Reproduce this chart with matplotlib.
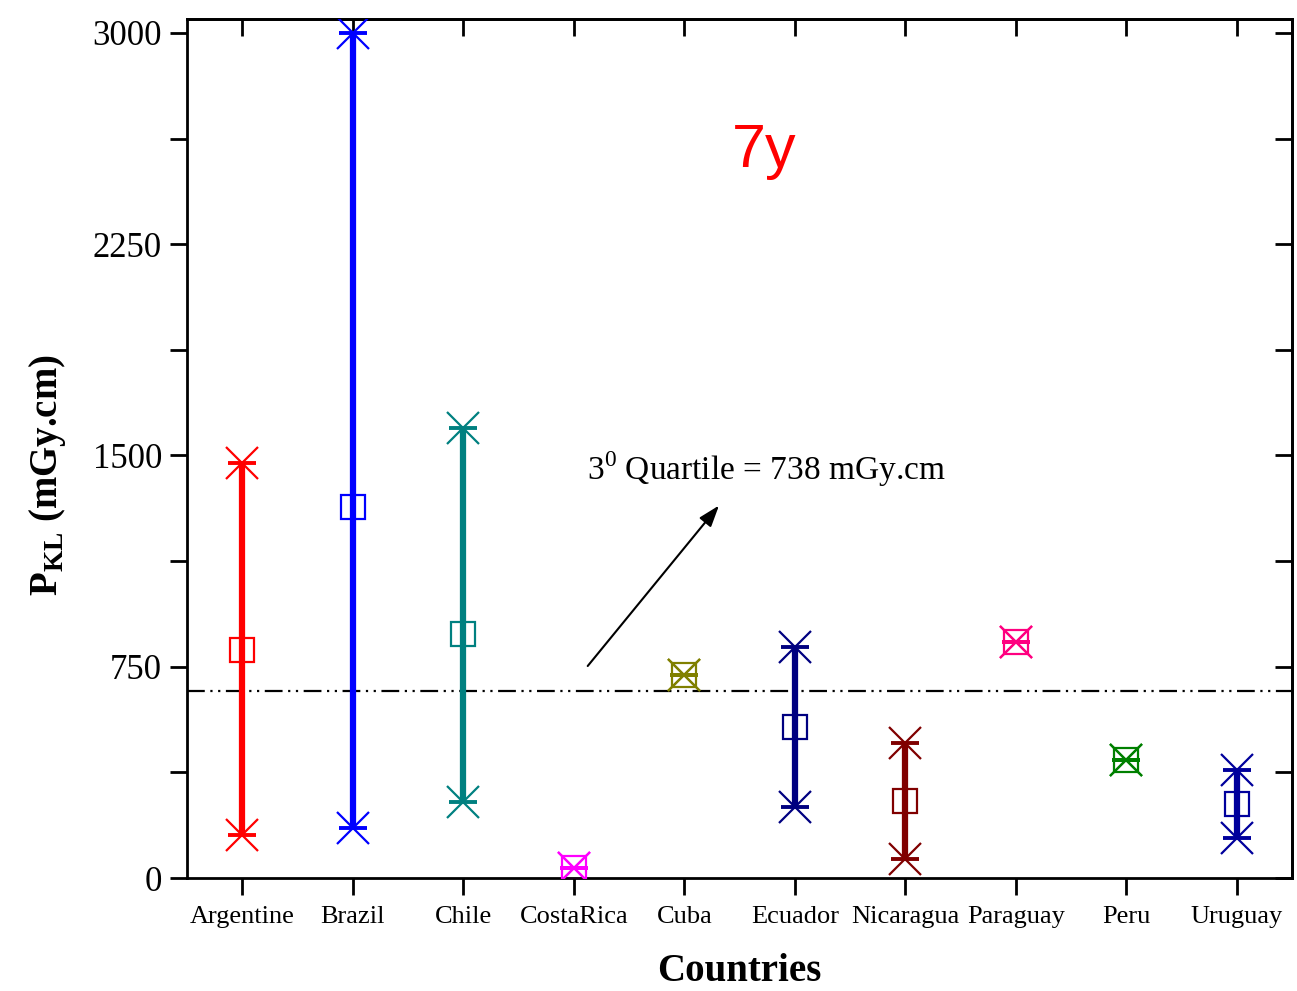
import matplotlib
matplotlib.use("Agg")
import matplotlib.pyplot as plt
from matplotlib.ticker import MultipleLocator

# data
countries = ["Argentine", "Brazil", "Chile", "CostaRica", "Cuba",
             "Ecuador", "Nicaragua", "Paraguay", "Peru", "Uruguay"]
p_min = [153, 177, 270, 35, 721, 252, 67, 838, 419, 142]
p_max = [1473, 3000, 1598, 35, 721, 820, 479, 838, 419, 383]
p_med = [810, 1317, 866, 35, 721, 536, 273, 838, 419, 263]
colors = ["#ff0000", "#0000ff", "#008080", "#ff00ff", "#808000",
          "#000080", "#800000", "#ff0080", "#008000", "#00009c"]
quartile_line = 664

plt.rcParams["font.family"] = ["Liberation Serif", "DejaVu Serif"]
plt.rcParams["mathtext.fontset"] = "custom"
plt.rcParams["mathtext.rm"] = "Liberation Serif"
plt.rcParams["mathtext.bf"] = "Liberation Serif:bold"

fig = plt.figure(figsize=(12.97, 9.91), dpi=100)
ax = fig.add_axes([0.1442, 0.114, 0.852, 0.867])

x = list(range(1, len(countries) + 1))
for xi, lo, hi, med, c in zip(x, p_min, p_max, p_med, colors):
    if hi > lo:
        ax.plot([xi, xi], [lo, hi], color=c, lw=4.5, solid_capstyle="butt", zorder=2)
    ax.plot([xi, xi], [lo, hi], ls="none", marker="x", ms=23, mew=1.6, color=c, zorder=3)
    ax.plot([xi, xi], [lo, hi], ls="none", marker="_", ms=20, mew=2.8, color=c, zorder=3)
    ax.plot([xi], [med], ls="none", marker="s", ms=17, mew=1.6, mfc="none", mec=c, zorder=4)

ax.axhline(quartile_line, color="black", lw=1.6, ls=(0, (8, 2.5, 1, 2.5, 1, 2.5)), zorder=1)

ax.annotate("", xy=(5.33, 1330), xytext=(4.11, 745),
            arrowprops=dict(arrowstyle="-|>,head_length=1.3,head_width=0.45",
                            color="black", lw=1.5))
ax.text(4.12, 1450, "3$^{0}$ Quartile = 738 mGy.cm", fontsize=24, va="center", ha="left")
ax.text(5.72, 2580, "7y", color="red", fontsize=44, ha="center", va="center",
        family=["Liberation Sans"])

ax.set_xlim(0.5, 10.5)
ax.set_ylim(0, 3050)
ax.set_xticks(x)
ax.set_xticklabels(countries, fontsize=19)
ax.yaxis.set_major_locator(MultipleLocator(750))
ax.yaxis.set_minor_locator(MultipleLocator(375))
ax.tick_params(axis="y", labelsize=25)

for s in ax.spines.values():
    s.set_linewidth(2)
ax.tick_params(which="both", length=12, width=2, direction="out", top=False, right=False, pad=6)
ax.tick_params(axis="x", length=12, width=2, pad=8)

# inward ticks on top and right
ax_top = ax.secondary_xaxis("top")
ax_top.set_xticks(x)
ax_top.tick_params(direction="in", length=12, width=2, labeltop=False)
ax_right = ax.secondary_yaxis("right")
ax_right.yaxis.set_major_locator(MultipleLocator(750))
ax_right.yaxis.set_minor_locator(MultipleLocator(375))
ax_right.tick_params(which="both", direction="in", length=12, width=2, labelright=False)
for sa in (ax_top, ax_right):
    for s in sa.spines.values():
        s.set_linewidth(2)

ax.set_xlabel("Countries", fontsize=28, fontweight="bold")
ax.set_ylabel("P$_{\\mathbf{KL}}$ (mGy.cm)", fontsize=28, fontweight="bold")
ax.xaxis.set_label_coords(0.5, -0.087)
ax.yaxis.set_label_coords(-0.108, 0.469)

fig.savefig("out.png", dpi=100)
